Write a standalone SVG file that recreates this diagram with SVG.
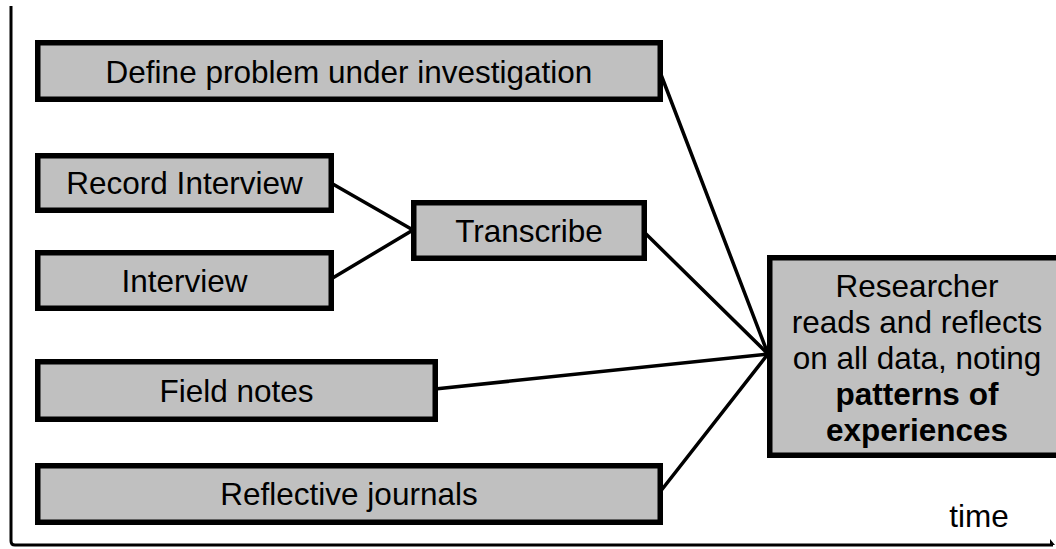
<svg xmlns="http://www.w3.org/2000/svg" width="1056" height="549" viewBox="0 0 1056 549">
  <style>
    .box { fill: #c0c0c0; stroke: #000; stroke-width: 5.5; }
    .lbl { font-family: "Liberation Sans", Arial, sans-serif; font-size: 31.5px; fill: #000; text-anchor: middle; }
    .bold { font-weight: bold; }
    .conn { stroke: #000; stroke-width: 3.5; fill: none; stroke-linecap: round; }
    .axis { stroke: #000; stroke-width: 3; fill: none; }
  </style>
  <rect width="1056" height="549" fill="#fff"/>
  <g id="axes">
    <path class="axis" d="M11,6 V541 Q11,545 15,545 H1053"/>
    <path d="M1050,539 L1055,545 L1050,545 Z" fill="#000"/>
    <text class="lbl" x="979" y="527">time</text>
  </g>
  <g id="connectors">
    <line class="conn" x1="660" y1="72" x2="768" y2="354"/>
    <line class="conn" x1="331" y1="183" x2="413" y2="230"/>
    <line class="conn" x1="331" y1="279" x2="413" y2="230"/>
    <line class="conn" x1="644" y1="232" x2="768" y2="354"/>
    <line class="conn" x1="435" y1="389" x2="768" y2="354"/>
    <line class="conn" x1="660" y1="492" x2="768" y2="354"/>
  </g>
  <g id="define">
    <rect class="box" x="37.75" y="42.75" width="622.5" height="56.5"/>
    <text class="lbl" x="349" y="83">Define problem under investigation</text>
  </g>
  <g id="record">
    <rect class="box" x="37.75" y="155.75" width="293.5" height="54.5"/>
    <text class="lbl" x="184.5" y="193.5">Record Interview</text>
  </g>
  <g id="interview">
    <rect class="box" x="37.75" y="252.75" width="293.5" height="55.5"/>
    <text class="lbl" x="184.5" y="291.5">Interview</text>
  </g>
  <g id="transcribe">
    <rect class="box" x="413.75" y="202.75" width="230.5" height="55.5"/>
    <text class="lbl" x="529" y="241.5">Transcribe</text>
  </g>
  <g id="fieldnotes">
    <rect class="box" x="37.75" y="361.75" width="397.5" height="57.5"/>
    <text class="lbl" x="236.5" y="401.5">Field notes</text>
  </g>
  <g id="reflective">
    <rect class="box" x="37.75" y="465.75" width="622.5" height="56.5"/>
    <text class="lbl" x="349" y="505">Reflective journals</text>
  </g>
  <g id="researcher">
    <rect class="box" x="769.75" y="257.75" width="300" height="197.5"/>
    <text class="lbl" x="917" y="297">Researcher</text>
    <text class="lbl" x="917" y="333">reads and reflects</text>
    <text class="lbl" x="917" y="369">on all data, noting</text>
    <text class="lbl bold" x="917" y="405">patterns of</text>
    <text class="lbl bold" x="917" y="441">experiences</text>
  </g>
</svg>
